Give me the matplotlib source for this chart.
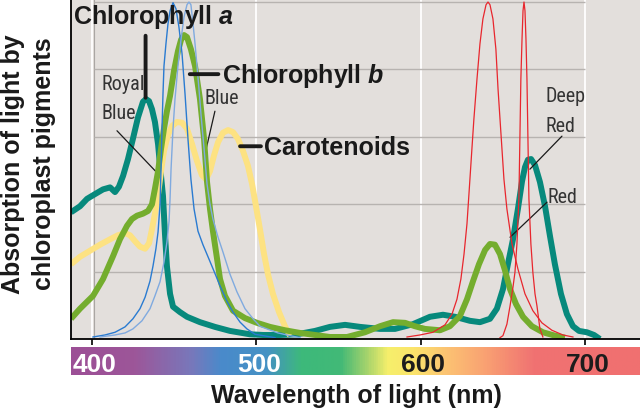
import numpy as np
import matplotlib
matplotlib.use("Agg")
import matplotlib.pyplot as plt
from matplotlib.colors import LinearSegmentedColormap
from matplotlib import font_manager

plt.rcParams['font.family'] = ['Liberation Sans', 'DejaVu Sans']
plt.rcParams['mathtext.fontset'] = 'custom'
plt.rcParams['mathtext.it'] = 'Liberation Sans:bold:italic'
plt.rcParams['mathtext.rm'] = 'Liberation Sans:bold'

# ---- absorption spectra (wavelength nm, relative absorption) ----
chl_a_wl = [387.2, 392.7, 397.0, 401.8, 406.7, 411.0, 414.0, 416.4, 418.9, 421.9, 424.9, 428.0,
            431.0, 432.9, 434.7, 436.5, 438.3, 440.2, 441.4, 443.2, 444.4, 445.6, 447.5, 449.3,
            453.5, 457.8, 465.7, 474.8, 484.0, 496.1, 504.1, 514.4, 524.7, 535.7, 544.8, 554.0,
            563.1, 575.3, 584.4, 595.3, 605.7, 613.6, 620.9, 630.0, 636.1, 642.2, 646.4, 650.1,
            653.1, 656.2, 659.2, 661.7, 663.5, 665.3, 667.2, 669.6, 672.6, 675.7, 678.7, 681.7,
            685.4, 689.0, 692.7, 696.4, 701.2, 705.5, 709.1]
chl_a_abs = [1.88, 1.97, 2.08, 2.15, 2.22, 2.25, 2.18, 2.26, 2.42, 2.67, 2.97, 3.29,
             3.52, 3.56, 3.53, 3.41, 3.22, 2.89, 2.57, 2.12, 1.56, 1.08, 0.67, 0.48,
             0.40, 0.33, 0.25, 0.18, 0.12, 0.07, 0.06, 0.06, 0.07, 0.12, 0.18, 0.21,
             0.18, 0.15, 0.15, 0.22, 0.33, 0.36, 0.33, 0.27, 0.25, 0.30, 0.45, 0.74,
             1.11, 1.48, 1.93, 2.34, 2.55, 2.66, 2.67, 2.58, 2.33, 1.97, 1.53, 1.11,
             0.67, 0.37, 0.19, 0.12, 0.10, 0.06, 0.0]

chl_b_wl = [387.2, 392.7, 400.6, 406.7, 412.8, 417.0, 421.3, 424.3, 427.4, 431.0, 434.1, 436.5,
            438.3, 440.2, 442.0, 443.8, 445.6, 447.5, 449.9, 452.3, 454.2, 456.0, 457.8, 460.2,
            462.7, 465.7, 468.2, 470.0, 471.8, 473.6, 476.1, 477.9, 480.9, 485.8, 493.1, 500.4,
            508.3, 517.4, 526.6, 535.7, 544.8, 555.2, 566.1, 575.3, 583.2, 590.5, 596.5, 602.6,
            611.8, 617.8, 623.9, 628.2, 631.9, 635.5, 639.2, 642.2, 645.2, 648.3, 651.3, 654.4,
            658.0, 662.3, 667.7, 674.4, 681.7, 687.8]
chl_b_abs = [0.30, 0.45, 0.64, 0.89, 1.23, 1.48, 1.68, 1.78, 1.83, 1.86, 1.90, 2.00,
             2.23, 2.49, 2.82, 3.12, 3.38, 3.61, 3.98, 4.27, 4.44, 4.51, 4.48, 4.30,
             4.05, 3.56, 2.97, 2.33, 1.93, 1.60, 1.19, 0.89, 0.64, 0.42, 0.31, 0.24,
             0.18, 0.13, 0.09, 0.06, 0.03, 0.03, 0.10, 0.19, 0.25, 0.24, 0.19, 0.15,
             0.13, 0.19, 0.34, 0.59, 0.86, 1.11, 1.32, 1.41, 1.40, 1.26, 1.02, 0.74,
             0.52, 0.33, 0.19, 0.10, 0.05, 0.02]

car_wl = [387.2, 392.7, 398.8, 404.9, 411.0, 415.8, 420.1, 423.1, 426.2, 429.2, 432.3, 434.7,
          436.5, 438.3, 440.2, 442.0, 443.8, 446.2, 448.7, 451.7, 454.8, 457.8, 460.9, 463.9,
          466.9, 469.4, 471.8, 474.2, 476.7, 479.7, 482.8, 485.8, 488.8, 491.9, 494.9, 497.4,
          499.8, 502.2, 504.7, 507.1, 510.1, 513.8, 517.4, 520.5]
car_abs = [1.11, 1.22, 1.31, 1.40, 1.48, 1.54, 1.57, 1.54, 1.45, 1.37, 1.34, 1.42,
           1.63, 1.86, 2.15, 2.49, 2.79, 3.03, 3.16, 3.22, 3.21, 3.12, 2.89, 2.64,
           2.43, 2.37, 2.49, 2.72, 2.92, 3.06, 3.10, 3.07, 2.97, 2.79, 2.57, 2.30,
           1.97, 1.63, 1.26, 0.96, 0.67, 0.40, 0.19, 0.05]

# ---- light source emission peaks ----
royal_wl = [400.6, 407.9, 414.0, 420.1, 424.9, 429.2, 432.3, 435.3, 437.1, 438.9, 440.2, 441.4,
            442.0, 442.6, 443.2, 443.8, 445.0, 446.2, 447.5, 449.3, 451.1, 452.9, 454.8, 456.6,
            458.4, 460.2, 462.1, 464.5, 467.5, 470.6, 474.2, 477.9, 482.1, 485.8, 490.1, 494.3,
            499.2, 504.1, 511.4]
royal_abs = [0.03, 0.06, 0.10, 0.18, 0.30, 0.45, 0.62, 0.86, 1.08, 1.34, 1.59, 2.00,
             2.52, 3.12, 3.64, 4.05, 4.38, 4.67, 4.87, 4.99, 4.90, 4.63, 4.23, 3.64,
             2.97, 2.37, 1.93, 1.60, 1.40, 1.22, 1.01, 0.79, 0.56, 0.40, 0.25, 0.15,
             0.07, 0.05, 0.02]

blue_wl = [404.9, 414.0, 420.1, 424.9, 430.4, 435.3, 438.3, 441.4, 443.8, 445.6, 446.9, 447.5,
           448.1, 449.3, 450.5, 452.3, 454.2, 456.0, 457.8, 459.0, 460.2, 461.5, 462.7, 463.9,
           465.1, 466.3, 468.2, 470.0, 471.8, 473.6, 476.7, 479.7, 484.0, 488.2, 493.1, 498.0,
           502.2, 506.5, 513.2, 520.5, 526.6]
blue_abs = [0.03, 0.06, 0.09, 0.15, 0.27, 0.45, 0.64, 0.85, 1.14, 1.44, 1.75, 2.08,
            2.52, 3.12, 3.56, 4.05, 4.45, 4.78, 4.96, 5.00, 4.96, 4.67, 4.38, 4.05,
            3.71, 3.34, 2.82, 2.30, 2.00, 1.78, 1.51, 1.29, 0.96, 0.70, 0.45, 0.30,
            0.19, 0.15, 0.09, 0.05, 0.02]

red_wl = [591.7, 599.6, 607.5, 614.8, 619.1, 622.1, 624.5, 626.4, 628.2, 629.4, 631.2, 632.4,
          634.3, 636.1, 637.9, 639.8, 641.0, 642.2, 644.0, 645.8, 647.1, 648.9, 650.7, 652.5,
          655.6, 659.2, 663.5, 668.3, 673.8, 679.9, 686.6, 692.7]
red_abs = [0.03, 0.06, 0.10, 0.21, 0.37, 0.59, 0.89, 1.26, 1.71, 2.15, 2.82, 3.26,
           3.86, 4.38, 4.75, 4.96, 5.00, 4.96, 4.75, 4.30, 3.71, 3.04, 2.37, 1.93,
           1.41, 1.04, 0.67, 0.42, 0.24, 0.13, 0.06, 0.03]

deep_wl = [648.3, 650.1, 652.5, 654.4, 656.2, 657.4, 658.6, 659.8, 660.4, 661.0, 661.7, 662.3,
           662.9, 663.5, 664.1, 664.7, 665.3, 665.9, 667.1, 668.3, 669.6, 670.8, 672.6, 674.4]
deep_abs = [0.02, 0.05, 0.22, 0.49, 0.77, 0.99, 1.41, 2.08, 2.97, 3.86, 4.45, 4.87,
            5.00, 4.87, 4.45, 3.86, 2.97, 2.08, 1.41, 0.99, 0.67, 0.49, 0.15, 0.03]

ticks = [400, 500, 600, 700]
tick_colors = ["white", "white", "#1c1c1c", "#1c1c1c"]

# spectrum bar colour stops (nm, colour)
spec_stops = [(387.2, "#9c4f96"), (425, "#9d5699"), (460, "#7878bb"), (478, "#4a8acb"),
              (506, "#4592c4"), (527, "#3db97b"), (551, "#42b977"), (567, "#a5d36c"),
              (580, "#f6ef6b"), (595, "#fbe56b"), (617, "#fcc173"), (640, "#f9a072"),
              (669, "#f07272"), (733.5, "#f07070")]

C_BG = "#e3dfdc"
C_CHLA = "#07897c"
C_CHLB = "#74ad2e"
C_CAR = "#fde282"
C_ROYAL = "#2a7bd1"
C_BLUE = "#80aadf"
C_RED = "#e8262d"
C_NOTE = "#343434"
X0, X1 = 387.2, 733.5

# narrow face for the small light-source notes, if the system has one
narrow = font_manager.FontProperties(family="DejaVu Sans", stretch="condensed", size=14.5)
for fam in ["Liberation Sans Narrow", "Roboto Condensed", "Open Sans Condensed"]:
    if any(f.name == fam for f in font_manager.fontManager.ttflist):
        narrow = font_manager.FontProperties(family=fam, size=14.5)
        break

fig = plt.figure(figsize=(6.4, 4.1), dpi=100)
ax = fig.add_axes([0.1109, 0.1707, 0.8891, 0.8293])
ax.set_facecolor(C_BG)
ax.set_xlim(X0, X1)
ax.set_ylim(0, 5.045)

for t in ticks:
    ax.axvline(t, color="white", lw=1.3, zorder=1)
ax.axvline(401.2, color="#aaa6a3", lw=0.8, zorder=1)
ax.hlines([1, 2, 3, 4, 5], 401.2, 700, color="#b7b3b0", lw=1.0, zorder=1)

thick = dict(lw=4.3, solid_capstyle="butt", solid_joinstyle="round")
ax.plot(chl_a_wl, chl_a_abs, color=C_CHLA, zorder=3, **thick)
ax.plot(car_wl, car_abs, color=C_CAR, zorder=4, **thick)
ax.plot(chl_b_wl, chl_b_abs, color=C_CHLB, zorder=5, **thick)
ax.plot(royal_wl, royal_abs, color=C_ROYAL, lw=1.0, zorder=6)
ax.plot(blue_wl, blue_abs, color=C_BLUE, lw=1.0, zorder=6)
ax.plot(red_wl, red_abs, color=C_RED, lw=0.9, zorder=6)
ax.plot(deep_wl, deep_abs, color=C_RED, lw=0.9, zorder=6)

for s in ["top", "right"]:
    ax.spines[s].set_visible(False)
for s in ["left", "bottom"]:
    ax.spines[s].set_linewidth(1.3)
    ax.spines[s].set_zorder(7)
ax.set_xticks(ticks)
ax.set_xticklabels([])
ax.set_yticks([])
ax.tick_params(axis="x", length=4.5, width=1.2, direction="out")

# pigment labels
bold = dict(fontsize=18, fontweight="bold", color="#1a1a1a", zorder=8)
ax.text(388.4, 4.69, r"Chlorophyll $\mathit{a}$", ha="left", va="baseline", **bold)
ax.text(479.4, 3.81, r"Chlorophyll $\mathit{b}$", ha="left", va="baseline", **bold)
ax.text(504.5, 2.75, "Carotenoids", ha="left", va="baseline", **bold)
lead = dict(arrowstyle="-", color="#1a1a1a", shrinkA=0, shrinkB=0)
ax.annotate("", xy=(432.6, 3.58), xytext=(432.6, 4.50), arrowprops=dict(lw=2.8, **lead), zorder=8)
ax.annotate("", xy=(459.5, 3.93), xytext=(476.9, 3.93), arrowprops=dict(lw=2.8, **lead), zorder=8)
ax.annotate("", xy=(490.1, 2.86), xytext=(502.8, 2.86), arrowprops=dict(lw=2.8, **lead), zorder=8)

# light source labels
note = dict(fontproperties=narrow, color=C_NOTE, ha="left", va="baseline", zorder=8)
ax.text(405.6, 3.71, "Royal", **note)
ax.text(405.6, 3.28, "Blue", **note)
ax.text(468.2, 3.50, "Blue", **note)
ax.text(675.7, 3.53, "Deep", **note)
ax.text(675.7, 3.09, "Red", **note)
ax.text(677.5, 2.03, "Red", **note)
ax.annotate("", xy=(441.4, 2.42), xytext=(415.2, 3.09), arrowprops=dict(lw=0.9, **lead))
ax.annotate("", xy=(468.8, 2.75), xytext=(474.8, 3.38), arrowprops=dict(lw=0.9, **lead))
ax.annotate("", xy=(666.5, 2.52), xytext=(686.0, 3.01), arrowprops=dict(lw=0.9, **lead))
ax.annotate("", xy=(654.4, 1.51), xytext=(676.9, 2.03), arrowprops=dict(lw=0.9, **lead))

# spectrum bar
axb = fig.add_axes([0.1109, 0.0829, 0.8891, 0.0683])
pos = [(w - X0) / (X1 - X0) for w, _ in spec_stops]
cmap = LinearSegmentedColormap.from_list("spec", list(zip(pos, [c for _, c in spec_stops])))
axb.imshow(np.linspace(0, 1, 700)[None, :], aspect="auto", cmap=cmap,
           extent=[X0, X1, 0, 1], vmin=0, vmax=1)
axb.set_xlim(X0, X1)
axb.set_ylim(0, 1)
axb.axis("off")
for t, c in zip(ticks, tick_colors):
    axb.text(t + 1.5, 0.14, str(t), ha="center", va="baseline", fontsize=19,
             fontweight="bold", color=c)

fig.text(13.5 / 640, 0.60, "Absorption of light by", rotation=90, ha="center",
         va="center", fontsize=18, fontweight="bold", color="#1a1a1a")
fig.text(44 / 640, 0.60, "chloroplast pigments", rotation=90, ha="center",
         va="center", fontsize=18, fontweight="bold", color="#1a1a1a")
fig.text(356 / 640, 7 / 410, "Wavelength of light (nm)", ha="center", va="baseline",
         fontsize=18, fontweight="bold", color="#1a1a1a")

fig.savefig("out.png", dpi=100)
